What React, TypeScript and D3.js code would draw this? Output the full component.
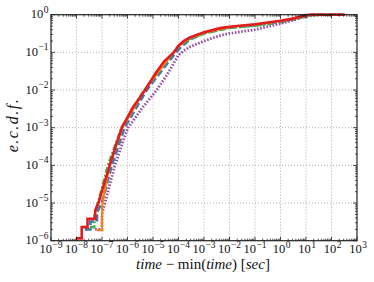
import React, { useEffect, useRef } from "react";
import * as d3 from "d3";

// tick exponents for the log axes
const xExponents = [-9, -8, -7, -6, -5, -4, -3, -2, -1, 0, 1, 2, 3];
const yExponents = [-6, -5, -4, -3, -2, -1, 0];

// e.c.d.f. curves (x in seconds, y probability)
const blueX = [2.1e-8, 3.5e-8, 3.5e-8, 6.3e-8, 6.3e-8, 9.8e-8, 2.4e-7, 7.6e-7, 5.6e-6, 7.9e-5, 1.26e-4, 2.8e-4, 1e-3, 1e-2, 0.1, 1, 3.2, 10, 20, 250];
const blueY = [2e-6, 2e-6, 3.2e-6, 3.2e-6, 5.6e-6, 1e-5, 1e-4, 1e-3, 0.01, 0.1, 0.14, 0.22, 0.32, 0.45, 0.52, 0.66, 0.78, 0.95, 1, 1];

const greenX = [3.4e-8, 5e-8, 5e-8, 6.9e-8, 1.1e-7, 1.7e-7, 5.8e-7, 4.5e-6, 6.3e-5, 1e-4, 2.8e-4, 1e-3, 1e-2, 0.1, 1, 10, 32, 320];
const greenY = [2.3e-6, 2.3e-6, 4.5e-6, 1e-5, 3.2e-5, 1e-4, 1e-3, 0.01, 0.1, 0.15, 0.23, 0.32, 0.45, 0.51, 0.62, 0.89, 1, 1];

const purpleX = [5.4e-8, 1e-7, 1e-7, 1.3e-7, 3.2e-7, 6.9e-7, 1.05e-6, 4e-6, 1.4e-5, 3.5e-5, 6.3e-5, 1e-4, 1.6e-4, 2.8e-4, 1e-3, 4.3e-3, 1e-2, 0.1, 1, 3.2, 10, 20, 320];
const purpleY = [2e-6, 2e-6, 5e-6, 1e-5, 1e-4, 4.7e-4, 1e-3, 3.5e-3, 0.01, 0.025, 0.05, 0.085, 0.11, 0.14, 0.2, 0.28, 0.32, 0.4, 0.58, 0.72, 0.91, 1, 1];

const orangeX = [6.3e-8, 1e-7, 1e-7, 1.1e-7, 2e-7, 6.3e-7, 4.7e-6, 6.3e-5, 1e-4, 2.8e-4, 1e-3, 1e-2, 0.1, 1, 10, 20, 320];
const orangeY = [1.9e-6, 1.9e-6, 7.9e-6, 1.25e-5, 1e-4, 1e-3, 0.01, 0.1, 0.145, 0.24, 0.33, 0.47, 0.55, 0.68, 0.95, 1, 1];

const redX = [9.5e-9, 1.6e-8, 1.6e-8, 2.7e-8, 2.7e-8, 5.4e-8, 5.4e-8, 7.2e-8, 2.0e-7, 3.8e-7, 6.0e-7, 1.6e-6, 4.9e-6, 1.26e-5, 2.8e-5, 6.6e-5, 1e-4, 1.6e-4, 2.8e-4, 1e-3, 4.3e-3, 1e-2, 0.1, 1, 3.2, 10, 16, 340];
const redY = [1.15e-6, 1.15e-6, 2.3e-6, 2.3e-6, 3.8e-6, 3.8e-6, 6.3e-6, 1e-5, 1e-4, 4e-4, 1e-3, 3.4e-3, 0.01, 0.028, 0.059, 0.1, 0.15, 0.2, 0.25, 0.34, 0.44, 0.48, 0.56, 0.69, 0.79, 0.98, 1, 1];

interface Series {
  xs: number[];
  ys: number[];
  color: string;
  width: number;
  dash: string | null;
}

// drawing order: red last so it sits on top
const series: Series[] = [
  { xs: blueX, ys: blueY, color: "#377eb8", width: 2.8, dash: "7,3" },
  { xs: greenX, ys: greenY, color: "#4daf4a", width: 2.6, dash: "6,2,2,2" },
  { xs: purpleX, ys: purpleY, color: "#984ea3", width: 2.8, dash: "1.6,1.6" },
  { xs: orangeX, ys: orangeY, color: "#ff7f00", width: 2, dash: null },
  { xs: redX, ys: redY, color: "#e41a1c", width: 2.6, dash: null },
];

const W = 374;
const H = 282;
const margin = { top: 14.7, right: 17, bottom: 41.3, left: 51 };
const FONT = "'Liberation Serif', 'Times New Roman', 'DejaVu Serif', serif";

const App: React.FC = () => {
  const svgRef = useRef<SVGSVGElement | null>(null);

  useEffect(() => {
    const svg = d3.select(svgRef.current);
    svg.selectAll("*").remove();

    const x = d3
      .scaleLog()
      .domain([1e-9, 1e3])
      .range([margin.left, W - margin.right]);
    const y = d3
      .scaleLog()
      .domain([1e-6, 1])
      .range([H - margin.bottom, margin.top]);

    const [x0, x1] = x.range();
    const [y0, y1] = y.range();

    // grid
    const grid = svg
      .append("g")
      .attr("stroke", "#9a9a9a")
      .attr("stroke-width", 0.8)
      .attr("stroke-dasharray", "1,2");
    xExponents.slice(1, -1).forEach((e) => {
      grid.append("line").attr("x1", x(10 ** e)).attr("x2", x(10 ** e)).attr("y1", y0).attr("y2", y1);
    });
    yExponents.slice(1, -1).forEach((e) => {
      grid.append("line").attr("x1", x0).attr("x2", x1).attr("y1", y(10 ** e)).attr("y2", y(10 ** e));
    });

    // curves
    const clip = svg.append("clipPath").attr("id", "plotclip");
    clip
      .append("rect")
      .attr("x", x0)
      .attr("y", y1 - 2)
      .attr("width", x1 - x0)
      .attr("height", y0 - y1 + 2);

    series.forEach((s) => {
      const line = d3
        .line<number>()
        .x((d) => x(d))
        .y((d, i) => y(s.ys[i]));
      svg
        .append("path")
        .attr("clip-path", "url(#plotclip)")
        .attr("d", line(s.xs))
        .attr("fill", "none")
        .attr("stroke", s.color)
        .attr("stroke-width", s.width)
        .attr("stroke-dasharray", s.dash ?? null);
    });

    // ticks (inside, all four sides)
    const ticks = svg.append("g").attr("stroke", "#000").attr("stroke-width", 0.7);
    xExponents.forEach((e, idx) => {
      const px = x(10 ** e);
      ticks.append("line").attr("x1", px).attr("x2", px).attr("y1", y0).attr("y2", y0 - 4);
      ticks.append("line").attr("x1", px).attr("x2", px).attr("y1", y1).attr("y2", y1 + 4);
      if (idx < xExponents.length - 1) {
        for (let m = 2; m < 10; m++) {
          const mx = x(m * 10 ** e);
          ticks.append("line").attr("x1", mx).attr("x2", mx).attr("y1", y0).attr("y2", y0 - 2);
          ticks.append("line").attr("x1", mx).attr("x2", mx).attr("y1", y1).attr("y2", y1 + 2);
        }
      }
    });
    yExponents.forEach((e, idx) => {
      const py = y(10 ** e);
      ticks.append("line").attr("x1", x0).attr("x2", x0 + 4).attr("y1", py).attr("y2", py);
      ticks.append("line").attr("x1", x1).attr("x2", x1 - 4).attr("y1", py).attr("y2", py);
      if (idx < yExponents.length - 1) {
        for (let m = 2; m < 10; m++) {
          const my = y(m * 10 ** e);
          ticks.append("line").attr("x1", x0).attr("x2", x0 + 2).attr("y1", my).attr("y2", my);
          ticks.append("line").attr("x1", x1).attr("x2", x1 - 2).attr("y1", my).attr("y2", my);
        }
      }
    });

    // frame
    svg
      .append("rect")
      .attr("x", x0)
      .attr("y", y1)
      .attr("width", x1 - x0)
      .attr("height", y0 - y1)
      .attr("fill", "none")
      .attr("stroke", "#222")
      .attr("stroke-width", 1.2);

    const expLabel = (t: any, e: number) => {
      t.append("tspan").text("10");
      t.append("tspan")
        .attr("dy", -5.5)
        .attr("dx", 0.5)
        .attr("font-size", 9.5)
        .text(e < 0 ? `\u2212${-e}` : `${e}`);
    };

    // x tick labels
    xExponents.forEach((e) => {
      const t = svg
        .append("text")
        .attr("x", x(10 ** e) + (e < 0 ? 0 : 1))
        .attr("y", 253)
        .attr("text-anchor", "middle")
        .attr("font-family", FONT)
        .attr("font-size", 12.5)
        .attr("fill", "#111");
      expLabel(t, e);
    });

    // y tick labels
    yExponents.forEach((e) => {
      const t = svg
        .append("text")
        .attr("x", 48.5)
        .attr("y", y(10 ** e) + 3.5)
        .attr("text-anchor", "end")
        .attr("font-family", FONT)
        .attr("font-size", 12.5)
        .attr("fill", "#111");
      expLabel(t, e);
    });

    // axis labels
    const xl = svg
      .append("text")
      .attr("x", 203)
      .attr("y", 269)
      .attr("text-anchor", "middle")
      .attr("font-family", FONT)
      .attr("font-size", 15)
      .attr("fill", "#111");
    xl.append("tspan").attr("font-style", "italic").text("time");
    xl.append("tspan").text(" \u2212 min(");
    xl.append("tspan").attr("font-style", "italic").text("time");
    xl.append("tspan").text(") [");
    xl.append("tspan").attr("font-style", "italic").text("sec");
    xl.append("tspan").text("]");

    svg
      .append("text")
      .attr("transform", `translate(18, 125) rotate(-90)`)
      .attr("text-anchor", "middle")
      .attr("font-family", FONT)
      .attr("font-size", 16)
      .attr("font-style", "italic")
      .attr("letter-spacing", 1.5)
      .attr("fill", "#111")
      .text("e.c.d.f.");
  }, []);

  return (
    <div>
      <svg
        ref={svgRef}
        width={W}
        height={H}
        style={{ position: "absolute", left: 0, top: 0, background: "#fff" }}
      ></svg>
    </div>
  );
};

export default App;
